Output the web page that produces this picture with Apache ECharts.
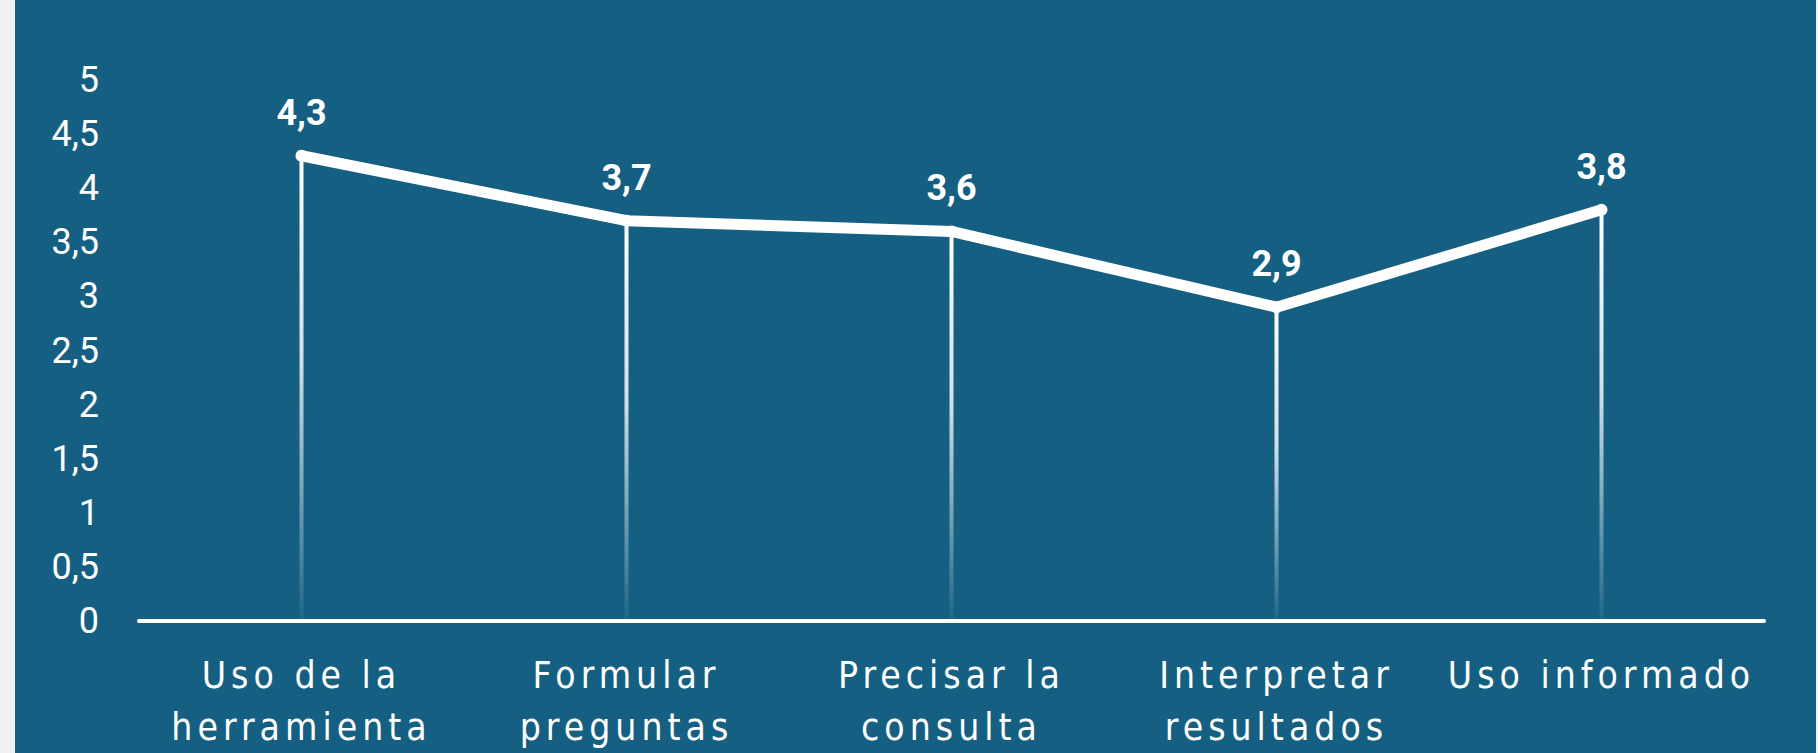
<!DOCTYPE html>
<html>
<head>
<meta charset="utf-8">
<script src="https://cdn.jsdelivr.net/npm/echarts@6/dist/echarts.min.js"></script>
<style>
  html, body { margin: 0; padding: 0; background: #eff0f2; width: 1818px; height: 753px; overflow: hidden; }
  #chart { position: absolute; left: 15px; top: 0; width: 1801px; height: 753px; }
</style>
</head>
<body>
<div id="chart"></div>
<script>
const categories = ["Uso de la\nherramienta", "Formular\npreguntas", "Precisar la\nconsulta", "Interpretar\nresultados", "Uso informado"];
const values = [4.3, 3.7, 3.6, 2.9, 3.8];
const yMin = 0, yMax = 5, yStep = 0.5;

const X_FONT = '"Liberation Sans Narrow", "DejaVu Sans Condensed", Roboto, sans-serif';
const comma = v => String(v).replace('.', ',');

const chart = echarts.init(document.getElementById('chart'), null, { renderer: 'svg' });
chart.setOption({
  animation: false,
  backgroundColor: '#156082',
  grid: { left: 124, right: 52, top: 80, bottom: 122, containLabel: false },
  xAxis: {
    type: 'category',
    data: categories,
    boundaryGap: true,
    axisLine: { show: true, lineStyle: { color: '#ffffff', width: 4 } },
    axisTick: { show: false },
    axisLabel: {
      color: '#ffffff', fontFamily: X_FONT, fontSize: 37, lineHeight: 52,
      margin: 28, interval: 0
    }
  },
  yAxis: {
    type: 'value', min: yMin, max: yMax, interval: yStep,
    axisLine: { show: false }, axisTick: { show: false }, splitLine: { show: false },
    axisLabel: {
      color: '#ffffff', fontFamily: 'Roboto, sans-serif', fontSize: 36, margin: 40,
      padding: [0, 0, 12, 0],
      formatter: v => comma(v)
    }
  },
  series: [
    {
      type: 'bar', data: values, barWidth: 4, silent: true,
      itemStyle: {
        color: new echarts.graphic.LinearGradient(0, 0, 0, 1, [
          { offset: 0, color: 'rgba(255,255,255,1)' },
          { offset: 0.45, color: 'rgba(255,255,255,0.8)' },
          { offset: 1, color: 'rgba(255,255,255,0.04)' }
        ])
      },
      z: 1
    },
    {
      type: 'line', data: values, symbol: 'circle', symbolSize: 12,
      lineStyle: { color: '#ffffff', width: 11 },
      itemStyle: { color: '#ffffff' },
      label: {
        show: true, position: 'top', distance: 19, color: '#ffffff',
        fontFamily: 'Roboto, sans-serif', fontWeight: 'bold', fontSize: 36,
        formatter: p => comma(p.value)
      },
      z: 3
    }
  ]
});

function spaceLabels() {
  const lines = new Set();
  categories.forEach(c => c.split('\n').forEach(l => lines.add(l)));
  document.querySelectorAll('#chart text').forEach(t => {
    if (lines.has(t.textContent)) t.style.letterSpacing = '5px';
  });
}
spaceLabels();
chart.on('finished', spaceLabels);
setTimeout(spaceLabels, 50);
</script>
</body>
</html>
